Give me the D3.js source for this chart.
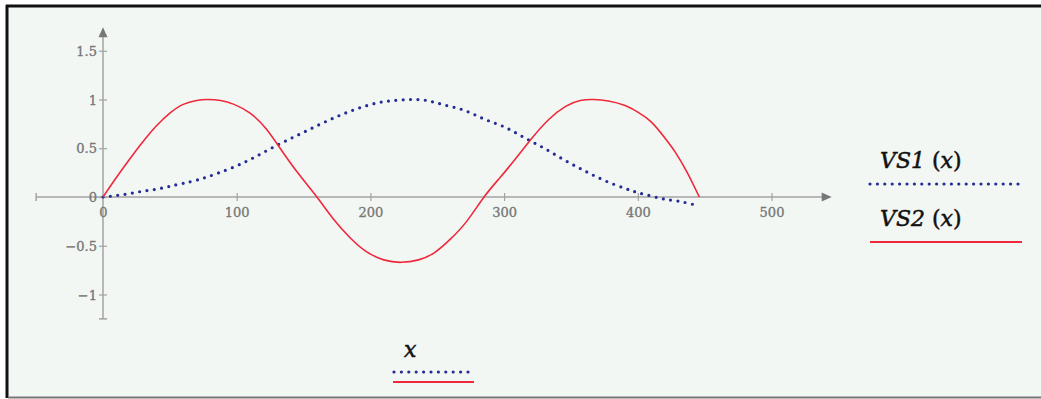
<!DOCTYPE html>
<html>
<head>
<meta charset="utf-8">
<script src="https://cdn.jsdelivr.net/npm/d3@7"></script>
<style>
  html, body { margin: 0; padding: 0; background: #fff; }
  svg { display: block; }
</style>
</head>
<body>
<svg id="chart" width="1041" height="399"></svg>
<script>
// VS2(x) - solid red
const vs2X = [0, 10, 20, 30, 40, 50, 60, 70, 78, 88, 98, 110, 122, 134, 147, 160, 172, 185, 197, 210, 223, 236, 248, 260, 272, 285, 297, 309, 320, 333, 346, 357, 367, 378, 390, 400, 410, 420, 428, 437, 446];
const vs2Y = [0, 0.20, 0.39, 0.57, 0.73, 0.86, 0.95, 0.99, 1.0, 0.99, 0.95, 0.86, 0.70, 0.47, 0.225, 0, -0.22, -0.42, -0.56, -0.645, -0.67, -0.645, -0.57, -0.43, -0.25, 0, 0.20, 0.40, 0.59, 0.79, 0.93, 0.99, 1.0, 0.985, 0.94, 0.87, 0.77, 0.61, 0.46, 0.25, 0];
// VS1(x) - dotted blue
const vs1X = [0, 10, 20, 30, 40, 50, 60, 72, 85, 100, 115, 130, 145, 160, 175, 190, 205, 218, 230, 242, 255, 270, 285, 300, 315, 330, 345, 360, 375, 390, 400, 410, 420, 430, 441];
const vs1Y = [0, 0.015, 0.035, 0.06, 0.08, 0.11, 0.14, 0.18, 0.24, 0.32, 0.42, 0.53, 0.63, 0.73, 0.825, 0.905, 0.965, 0.99, 1.0, 0.99, 0.945, 0.89, 0.80, 0.72, 0.61, 0.50, 0.38, 0.27, 0.17, 0.09, 0.045, 0.01, -0.022, -0.042, -0.075];

const xTicks = [0, 100, 200, 300, 400, 500];
const yTicks = [-1, -0.5, 0, 0.5, 1, 1.5];
const xExtent = [-50, 545];
const yExtent = [-1.25, 1.74];

const red = "#f0283c";
const blue = "#262c96";
const axisColor = "#a3a3a3";
const labelColor = "#777";

const svg = d3.select("#chart");

// frame
svg.append("rect").attr("x", 7).attr("y", 6).attr("width", 1040).attr("height", 391)
  .attr("fill", "#f3f7f4");
svg.append("line").attr("x1", 7).attr("x2", 7).attr("y1", 5).attr("y2", 398)
  .attr("stroke", "#111").attr("stroke-width", 3);
svg.append("line").attr("x1", 6).attr("x2", 1041).attr("y1", 6).attr("y2", 6)
  .attr("stroke", "#111").attr("stroke-width", 3);
svg.append("line").attr("x1", 8).attr("x2", 1041).attr("y1", 397.5).attr("y2", 397.5)
  .attr("stroke", "#777").attr("stroke-width", 2);

const x = d3.scaleLinear().domain([0, 500]).range([103, 771.5]);
const y = d3.scaleLinear().domain([0, 1]).range([197, 99.5]);

const g = svg.append("g");

// x axis line + arrow
g.append("line")
  .attr("x1", x(xExtent[0])).attr("x2", x(xExtent[1]) - 6)
  .attr("y1", y(0)).attr("y2", y(0))
  .attr("stroke", axisColor).attr("stroke-width", 1.5);
g.append("path")
  .attr("d", `M${x(xExtent[1])},${y(0)} l-10,-4.5 l0,9 z`)
  .attr("fill", "#777");
g.append("line")
  .attr("x1", x(xExtent[0])).attr("x2", x(xExtent[0]))
  .attr("y1", y(0) - 4).attr("y2", y(0) + 4)
  .attr("stroke", axisColor).attr("stroke-width", 1.5);

// y axis line + arrow
g.append("line")
  .attr("x1", x(0)).attr("x2", x(0))
  .attr("y1", y(yExtent[0])).attr("y2", y(yExtent[1]) + 6)
  .attr("stroke", axisColor).attr("stroke-width", 1.5);
g.append("path")
  .attr("d", `M${x(0)},${y(yExtent[1])} l-4.5,10 l9,0 z`)
  .attr("fill", "#777");
g.append("line")
  .attr("x1", x(0) - 4).attr("x2", x(0) + 4)
  .attr("y1", y(yExtent[0])).attr("y2", y(yExtent[0]))
  .attr("stroke", axisColor).attr("stroke-width", 1.5);

// x ticks
const xAxis = g.append("g")
  .attr("transform", `translate(0,${y(0)})`)
  .call(d3.axisBottom(x).tickValues(xTicks).tickSize(4).tickFormat(d3.format("d")));
xAxis.select(".domain").remove();
xAxis.selectAll(".tick line").attr("y1", -4).attr("y2", 4)
  .attr("stroke", axisColor).attr("stroke-width", 1.2);
xAxis.selectAll(".tick").filter(d => d === 0).select("line").remove();
xAxis.selectAll(".tick text").attr("y", 11).attr("dy", "0.71em")
  .attr("fill", labelColor).attr("stroke", labelColor).attr("stroke-width", 0.35)
  .style("font-family", "DejaVu Serif").style("font-size", "13px");

// y ticks
const yAxis = g.append("g")
  .attr("transform", `translate(${x(0)},0)`)
  .call(d3.axisLeft(y).tickValues(yTicks).tickSize(4).tickFormat(d3.format("~g")));
yAxis.select(".domain").remove();
yAxis.selectAll(".tick line").attr("x1", -4).attr("x2", 4)
  .attr("stroke", axisColor).attr("stroke-width", 1.2);
yAxis.selectAll(".tick text").attr("x", -6).attr("dy", "0.35em")
  .attr("fill", labelColor).attr("stroke", labelColor).attr("stroke-width", 0.35)
  .style("font-family", "DejaVu Serif").style("font-size", "13px");

// curves
const line = d3.line().x(d => x(d[0])).y(d => y(d[1])).curve(d3.curveNatural);

g.append("path")
  .datum(vs1X.map((v, i) => [v, vs1Y[i]]))
  .attr("fill", "none").attr("stroke", blue).attr("stroke-width", 3.2)
  .attr("stroke-linecap", "round").attr("stroke-dasharray", "0 7.4")
  .attr("d", line);

g.append("path")
  .datum(vs2X.map((v, i) => [v, vs2Y[i]]))
  .attr("fill", "none").attr("stroke", red).attr("stroke-width", 1.6)
  .attr("d", line);

// legend
function mathLabel(sel, parts) {
  parts.forEach(p => {
    sel.append("tspan").text(p.t).style("font-style", p.i ? "italic" : "normal");
  });
}
const legend = [
  { name: "VS1", y: 168, ly: 184, dotted: true },
  { name: "VS2", y: 226, ly: 242, dotted: false }
];
legend.forEach(l => {
  const t = svg.append("text").attr("x", 880).attr("y", l.y)
    .attr("fill", "#111").attr("stroke", "#111").attr("stroke-width", 0.5)
    .style("font-family", "DejaVu Serif").style("font-size", "22px");
  mathLabel(t, [{ t: l.name, i: true }, { t: " (", i: false }, { t: "x", i: true }, { t: ")", i: false }]);
  const ln = svg.append("line").attr("x1", 870).attr("x2", 1022).attr("y1", l.ly).attr("y2", l.ly);
  if (l.dotted) {
    ln.attr("stroke", blue).attr("stroke-width", 3.2).attr("stroke-linecap", "round").attr("stroke-dasharray", "0 7.4");
  } else {
    ln.attr("stroke", red).attr("stroke-width", 2);
  }
});

svg.append("text").attr("x", 404).attr("y", 357).attr("fill", "#111")
  .attr("stroke", "#111").attr("stroke-width", 0.5)
  .style("font-family", "DejaVu Serif").style("font-size", "22px")
  .style("font-style", "italic").text("x");
svg.append("line").attr("x1", 394).attr("x2", 470).attr("y1", 372).attr("y2", 372)
  .attr("stroke", blue).attr("stroke-width", 3.2).attr("stroke-linecap", "round").attr("stroke-dasharray", "0 7.4");
svg.append("line").attr("x1", 393).attr("x2", 474).attr("y1", 382).attr("y2", 382)
  .attr("stroke", red).attr("stroke-width", 2);
</script>
</body>
</html>
